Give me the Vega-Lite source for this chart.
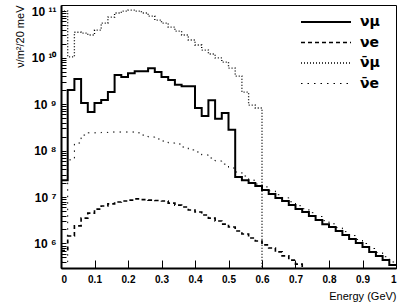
{
  "$schema": "https://vega.github.io/schema/vega-lite/v6.json",
  "width": 335,
  "height": 263,
  "autosize": {"type": "none"},
  "padding": {"left": 61, "top": 5, "right": 3, "bottom": 38},
  "config": {
    "view": {"stroke": "black", "strokeWidth": 1},
    "font": "Liberation Sans"
  },
  "data": {
    "values": [
      {"E": 0.00, "numu": 2.3e7, "nue": 7e5, "anumu": 1.0e11, "anue": 4e5},
      {"E": 0.02, "numu": 2.0e9, "nue": 1.45e6, "anumu": 1.03e10, "anue": 6.3e7},
      {"E": 0.04, "numu": 3.45e9, "nue": 2.4e6, "anumu": 3.5e10, "anue": 1.45e8},
      {"E": 0.06, "numu": 1.05e9, "nue": 3.5e6, "anumu": 3.35e10, "anue": 2.15e8},
      {"E": 0.08, "numu": 6.7e8, "nue": 4.5e6, "anumu": 3.05e10, "anue": 2.4e8},
      {"E": 0.10, "numu": 1.05e9, "nue": 5.5e6, "anumu": 3.9e10, "anue": 2.4e8},
      {"E": 0.12, "numu": 1.22e9, "nue": 6.4e6, "anumu": 5.5e10, "anue": 2.45e8},
      {"E": 0.14, "numu": 1.81e9, "nue": 7.1e6, "anumu": 7.4e10, "anue": 2.5e8},
      {"E": 0.16, "numu": 4.2e9, "nue": 7.8e6, "anumu": 9.1e10, "anue": 2.5e8},
      {"E": 0.18, "numu": 3.8e9, "nue": 8.2e6, "anumu": 1.0e11, "anue": 2.5e8},
      {"E": 0.20, "numu": 4.6e9, "nue": 8.6e6, "anumu": 1.05e11, "anue": 2.5e8},
      {"E": 0.22, "numu": 5.1e9, "nue": 9.1e6, "anumu": 1.0e11, "anue": 2.4e8},
      {"E": 0.24, "numu": 5.1e9, "nue": 8.8e6, "anumu": 9.1e10, "anue": 2.15e8},
      {"E": 0.26, "numu": 5.9e9, "nue": 8.6e6, "anumu": 7.8e10, "anue": 1.95e8},
      {"E": 0.28, "numu": 4.9e9, "nue": 8.4e6, "anumu": 6.4e10, "anue": 1.77e8},
      {"E": 0.30, "numu": 3.8e9, "nue": 8.2e6, "anumu": 5.5e10, "anue": 1.6e8},
      {"E": 0.32, "numu": 3.3e9, "nue": 7.4e6, "anumu": 4.5e10, "anue": 1.45e8},
      {"E": 0.34, "numu": 2.6e9, "nue": 6.7e6, "anumu": 3.7e10, "anue": 1.38e8},
      {"E": 0.36, "numu": 2.4e9, "nue": 6.1e6, "anumu": 3.05e10, "anue": 1.19e8},
      {"E": 0.38, "numu": 2.4e9, "nue": 5.25e6, "anumu": 2.38e10, "anue": 1.03e8},
      {"E": 0.40, "numu": 8.2e8, "nue": 4.75e6, "anumu": 1.86e10, "anue": 9.3e7},
      {"E": 0.42, "numu": 5.5e8, "nue": 4.1e6, "anumu": 1.45e10, "anue": 8.0e7},
      {"E": 0.44, "numu": 1.2e9, "nue": 3.5e6, "anumu": 1.19e10, "anue": 6.9e7},
      {"E": 0.46, "numu": 4.8e8, "nue": 3.05e6, "anumu": 9.8e9, "anue": 5.95e7},
      {"E": 0.48, "numu": 6.4e8, "nue": 2.6e6, "anumu": 8.0e9, "anue": 5.1e7},
      {"E": 0.50, "numu": 2.8e8, "nue": 2.26e6, "anumu": 5.9e9, "anue": 4.2e7},
      {"E": 0.52, "numu": 2.7e7, "nue": 1.86e6, "anumu": 4.0e9, "anue": 3.45e7},
      {"E": 0.54, "numu": 2.3e7, "nue": 1.6e6, "anumu": 1.8e9, "anue": 2.83e7},
      {"E": 0.56, "numu": 2.0e7, "nue": 1.31e6, "anumu": 9.5e8, "anue": 2.3e7},
      {"E": 0.58, "numu": 1.73e7, "nue": 1.13e6, "anumu": 8.2e8, "anue": 1.9e7},
      {"E": 0.60, "numu": 1.42e7, "nue": 9.3e5, "anumu": 1, "anue": 1.65e7},
      {"E": 0.62, "numu": 1.16e7, "nue": 8.0e5, "anumu": 1, "anue": 1.36e7},
      {"E": 0.64, "numu": 9.5e6, "nue": 6.6e5, "anumu": 1, "anue": 1.12e7},
      {"E": 0.66, "numu": 8.2e6, "nue": 5.4e5, "anumu": 1, "anue": 9.6e6},
      {"E": 0.68, "numu": 6.7e6, "nue": 4.4e5, "anumu": 1, "anue": 7.9e6},
      {"E": 0.70, "numu": 5.5e6, "nue": 3.6e5, "anumu": 1, "anue": 6.5e6},
      {"E": 0.72, "numu": 4.75e6, "nue": 2.8e5, "anumu": 1, "anue": 5.6e6},
      {"E": 0.74, "numu": 3.9e6, "nue": 1, "anumu": 1, "anue": 4.6e6},
      {"E": 0.76, "numu": 3.2e6, "nue": 1, "anumu": 1, "anue": 3.8e6},
      {"E": 0.78, "numu": 2.6e6, "nue": 1, "anumu": 1, "anue": 3.1e6},
      {"E": 0.80, "numu": 2.26e6, "nue": 1, "anumu": 1, "anue": 2.65e6},
      {"E": 0.82, "numu": 1.86e6, "nue": 1, "anumu": 1, "anue": 2.2e6},
      {"E": 0.84, "numu": 1.52e6, "nue": 1, "anumu": 1, "anue": 1.8e6},
      {"E": 0.86, "numu": 1.25e6, "nue": 1, "anumu": 1, "anue": 1.48e6},
      {"E": 0.88, "numu": 1.03e6, "nue": 1, "anumu": 1, "anue": 1.22e6},
      {"E": 0.90, "numu": 8.4e5, "nue": 1, "anumu": 1, "anue": 1.0e6},
      {"E": 0.92, "numu": 6.6e5, "nue": 1, "anumu": 1, "anue": 7.8e5},
      {"E": 0.94, "numu": 5.4e5, "nue": 1, "anumu": 1, "anue": 6.4e5},
      {"E": 0.96, "numu": 4.4e5, "nue": 1, "anumu": 1, "anue": 5.2e5},
      {"E": 0.98, "numu": 3.45e5, "nue": 1, "anumu": 1, "anue": 4.0e5},
      {"E": 1.00, "numu": 3.45e5, "nue": 1, "anumu": 1, "anue": 4.0e5}
    ]
  },
  "transform": [
    {"fold": ["numu", "nue", "anumu", "anue"], "as": ["nu", "flux"]}
  ],
  "mark": {"type": "line", "interpolate": "step-after", "clip": true},
  "encoding": {
    "x": {
      "field": "E",
      "type": "quantitative",
      "scale": {"domain": [0, 1], "nice": false},
      "axis": {
        "values": [0, 0.1, 0.2, 0.3, 0.4, 0.5, 0.6, 0.7, 0.8, 0.9, 1],
        "format": "~g",
        "grid": false,
        "tickSize": -8,
        "tickColor": "black",
        "domainColor": "black",
        "domainWidth": 2,
        "labelColor": "black",
        "labelFontSize": 10,
        "labelFontWeight": "bold",
        "labelPadding": 14,
        "title": "Energy (GeV)",
        "titleAnchor": "end",
        "titleFontSize": 11,
        "titleFontWeight": "normal",
        "titleColor": "black",
        "titlePadding": 6
      }
    },
    "y": {
      "field": "flux",
      "type": "quantitative",
      "scale": {"type": "log", "domain": [2.97e5, 1.35e11], "nice": false},
      "axis": {
        "values": [3e5, 4e5, 5e5, 6e5, 7e5, 8e5, 9e5, 1e6, 2e6, 3e6, 4e6, 5e6, 6e6, 7e6, 8e6, 9e6, 1e7, 2e7, 3e7, 4e7, 5e7, 6e7, 7e7, 8e7, 9e7, 1e8, 2e8, 3e8, 4e8, 5e8, 6e8, 7e8, 8e8, 9e8, 1e9, 2e9, 3e9, 4e9, 5e9, 6e9, 7e9, 8e9, 9e9, 1e10, 2e10, 3e10, 4e10, 5e10, 6e10, 7e10, 8e10, 9e10, 1e11],
        "labelExpr": "abs(log(datum.value)/LN10 - round(log(datum.value)/LN10)) > 0.01 ? '' : ['10⁰','10 ¹','10 ²','10 ³','10 ⁴','10 ⁵','10 ⁶','10 ⁷','10 ⁸','10 ⁹','10 ¹⁰','10 ¹¹'][round(log(datum.value)/LN10)]",
        "grid": false,
        "tickSize": -5,
        "tickColor": "black",
        "domainColor": "black",
        "domainWidth": 2,
        "labelColor": "black",
        "labelFontSize": 12,
        "labelFontWeight": "bold",
        "labelPadding": 10,
        "labelOverlap": false,
        "title": "ν/m²/20 meV",
        "titleAnchor": "end",
        "titleFontSize": 11,
        "titleFontWeight": "normal",
        "titleColor": "black",
        "titlePadding": 6
      }
    },
    "color": {
      "field": "nu",
      "type": "nominal",
      "scale": {"domain": ["numu", "nue", "anumu", "anue"], "range": ["black", "black", "black", "black"]},
      "legend": {
        "orient": "none",
        "legendX": 239,
        "legendY": 9,
        "title": null,
        "symbolType": "stroke",
        "symbolSize": 2500,
        "clipHeight": 16,
        "rowPadding": 4.5,
        "labelFontSize": 14,
        "labelFontWeight": "bold",
        "labelColor": "black",
        "labelOffset": 8,
        "labelFont": "DejaVu Sans",
        "labelExpr": "datum.value == 'numu' ? 'νμ' : datum.value == 'nue' ? 'νe' : datum.value == 'anumu' ? 'ν̄μ' : 'ν̄e'"
      }
    },
    "strokeDash": {
      "field": "nu",
      "type": "nominal",
      "scale": {"domain": ["numu", "nue", "anumu", "anue"], "range": [[1, 0], [4, 3], [1, 2], [1.5, 5]]},
      "legend": {
        "orient": "none",
        "legendX": 239,
        "legendY": 9,
        "title": null,
        "symbolType": "stroke",
        "symbolSize": 2500,
        "clipHeight": 16,
        "rowPadding": 4.5,
        "labelFontSize": 14,
        "labelFontWeight": "bold",
        "labelColor": "black",
        "labelOffset": 8,
        "labelFont": "DejaVu Sans",
        "labelExpr": "datum.value == 'numu' ? 'νμ' : datum.value == 'nue' ? 'νe' : datum.value == 'anumu' ? 'ν̄μ' : 'ν̄e'"
      }
    },
    "strokeWidth": {
      "field": "nu",
      "type": "nominal",
      "scale": {"domain": ["numu", "nue", "anumu", "anue"], "range": [2, 1, 1.5, 1.2]},
      "legend": {
        "orient": "none",
        "legendX": 239,
        "legendY": 9,
        "title": null,
        "symbolType": "stroke",
        "symbolSize": 2500,
        "clipHeight": 16,
        "rowPadding": 4.5,
        "labelFontSize": 14,
        "labelFontWeight": "bold",
        "labelColor": "black",
        "labelOffset": 8,
        "labelFont": "DejaVu Sans",
        "labelExpr": "datum.value == 'numu' ? 'νμ' : datum.value == 'nue' ? 'νe' : datum.value == 'anumu' ? 'ν̄μ' : 'ν̄e'"
      }
    }
  }
}
